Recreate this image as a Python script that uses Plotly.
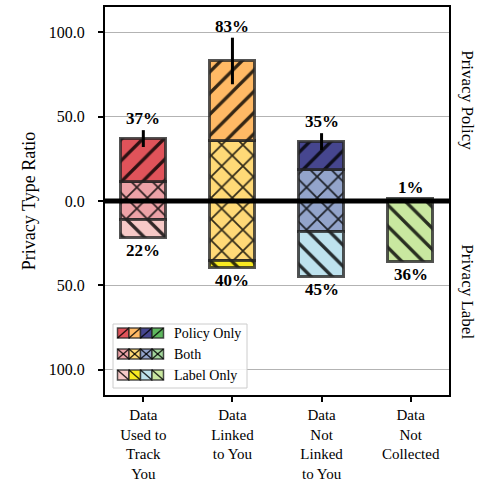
import plotly.graph_objects as go

# ---------------- data ----------------
categories = ["Data<br>Used to<br>Track<br>You", "Data<br>Linked<br>to You",
              "Data<br>Not<br>Linked<br>to You", "Data<br>Not<br>Collected"]
both = [11.5, 35.3, 18.6, 0.0]           # apps with both policy and label (spans zero)
policy_only = [25.5, 47.7, 16.6, 1.0]    # stacked above "both"
label_only = [10.5, 4.7, 26.6, 36.3]     # stacked below "both"
policy_err = [5.0, 13.8, 5.0, 0.0]

policy_colors = ["#e0535a", "#ffb965", "#46468f", "#5fb85f"]
both_colors = ["#eda2a7", "#ffd977", "#93a4cb", "#a3d69c"]
label_colors = ["#f6c9c7", "#f8ea22", "#bee2ee", "#c9e8a0"]
legend_names = ["Policy Only", "Both", "Label Only"]

ytick_vals = [-100, -50, 0, 50, 100]
ytick_text = ["100.0", "50.0", "0.0", "50.0", "100.0"]

policy_total = [b + p for b, p in zip(both, policy_only)]
label_total = [b + l for b, l in zip(both, label_only)]

FONT = "Liberation Serif"
EDGE = dict(color="rgba(35,35,35,0.78)", width=3)
BAR_W = 0.5


def pattern(shape):
    return dict(shape=shape, fgcolor="black", fgopacity=0.8,
                size=15, solidity=0.22, fillmode="overlay")


fig = go.Figure()
for i, cat in enumerate(categories):
    if both[i] > 0:
        fig.add_bar(x=[cat], y=[2 * both[i]], base=[-both[i]], width=BAR_W,
                    marker=dict(color=both_colors[i], line=EDGE, pattern=pattern("x")),
                    showlegend=False, hoverinfo="skip")
    fig.add_bar(x=[cat], y=[policy_only[i]], base=[both[i]], width=BAR_W,
                marker=dict(color=policy_colors[i], line=EDGE, pattern=pattern("/")),
                error_y=dict(type="data", array=[policy_err[i]], color="black",
                             thickness=3, width=0, visible=policy_err[i] > 0),
                showlegend=False, hoverinfo="skip")
    fig.add_bar(x=[cat], y=[label_only[i]], base=[-label_total[i]], width=BAR_W,
                marker=dict(color=label_colors[i], line=EDGE, pattern=pattern("\\")),
                showlegend=False, hoverinfo="skip")

PFONT = dict(family=FONT, size=17, color="black")
annotations = []
for c, pt, pe, lt in zip(categories, policy_total, policy_err, label_total):
    annotations.append(dict(x=c, y=pt + pe, text=f"<b>{round(pt)}%</b>",
                            yanchor="bottom", showarrow=False, yshift=0, font=PFONT))
    annotations.append(dict(x=c, y=-lt, text=f"<b>{round(lt)}%</b>",
                            yanchor="top", showarrow=False, yshift=-1, font=PFONT))

RFONT = dict(family=FONT, size=17, color="black")
annotations.append(dict(xref="paper", yref="paper", x=1.055, y=0.76,
                        xanchor="center", yanchor="middle",
                        text="Privacy Policy", textangle=90, showarrow=False, font=RFONT))
annotations.append(dict(xref="paper", yref="paper", x=1.055, y=0.265,
                        xanchor="center", yanchor="middle",
                        text="Privacy Label", textangle=90, showarrow=False, font=RFONT))

# ---------------- layout geometry (pixels) ----------------
W, H = 483, 487
L, R, T, B = 105, 34, 7, 92
PW, PH = W - L - R, H - T - B


def px(xp):
    return (xp - L) / PW


def py(yp):
    return (H - B - yp) / PH


shapes = [
    dict(type="line", xref="paper", yref="y", x0=0, x1=1, y0=0, y1=0,
         line=dict(color="black", width=5), layer="above"),
    dict(type="rect", xref="paper", yref="paper", x0=px(113), x1=px(247),
         y0=py(388), y1=py(324), line=dict(color="#cccccc", width=1),
         fillcolor="rgba(255,255,255,0.85)", layer="above"),
]

row_colors = [policy_colors, both_colors, label_colors]
row_hatch = ["/", "x", "\\"]
row_y = [333, 354, 375]
pw, ph = 11.5, 10
for colors, hatch, yc, name in zip(row_colors, row_hatch, row_y, legend_names):
    for i, col in enumerate(colors):
        x0 = 117.5 + i * pw
        x1 = x0 + pw
        y0, y1 = yc + ph / 2, yc - ph / 2
        shapes.append(dict(type="rect", xref="paper", yref="paper",
                           x0=px(x0), x1=px(x1), y0=py(y0), y1=py(y1),
                           fillcolor=col, line=dict(color="rgba(35,35,35,0.8)", width=1.5),
                           layer="above"))
        segs = []
        if hatch in ("/", "x"):
            segs.append((x0, y0, x1, y1))
        if hatch in ("\\", "x"):
            segs.append((x0, y1, x1, y0))
        for a, b_, c, d in segs:
            shapes.append(dict(type="line", xref="paper", yref="paper",
                               x0=px(a), y0=py(b_), x1=px(c), y1=py(d),
                               line=dict(color="rgba(0,0,0,0.8)", width=1.5),
                               layer="above"))
    annotations.append(dict(xref="paper", yref="paper", x=px(172), y=py(yc),
                            xanchor="left", yanchor="middle", text=name,
                            showarrow=False,
                            font=dict(family=FONT, size=14, color="black")))

fig.update_layout(
    width=W, height=H, margin=dict(l=L, r=R, t=T, b=B, autoexpand=False),
    plot_bgcolor="white", paper_bgcolor="white",
    barmode="overlay", bargap=0,
    font=dict(family=FONT, size=15, color="black"),
    shapes=shapes, annotations=annotations,
    xaxis=dict(range=[-0.43, 3.43], showgrid=False, showline=True, automargin=False,
               linecolor="black", linewidth=2, mirror=True,
               ticks="outside", ticklen=5, tickwidth=1.5, tickcolor="black",
               tickfont=dict(family=FONT, size=15, color="black")),
    yaxis=dict(range=[-115, 115], tickvals=ytick_vals, ticktext=ytick_text,
               showgrid=True, gridcolor="#b3b3b3", gridwidth=1, zeroline=False,
               showline=True, linecolor="black", linewidth=2, mirror=True,
               automargin=False, ticklabelstandoff=10,
               ticks="outside", ticklen=5, tickwidth=1.5, tickcolor="black",
               tickfont=dict(family=FONT, size=16, color="black"),
               title=dict(text="Privacy Type Ratio", standoff=8,
                          font=dict(family=FONT, size=18, color="black"))),
)

fig.write_html("out.html", config={"displayModeBar": False},
               post_script="document.body.style.margin='0';document.body.style.padding='0';")
